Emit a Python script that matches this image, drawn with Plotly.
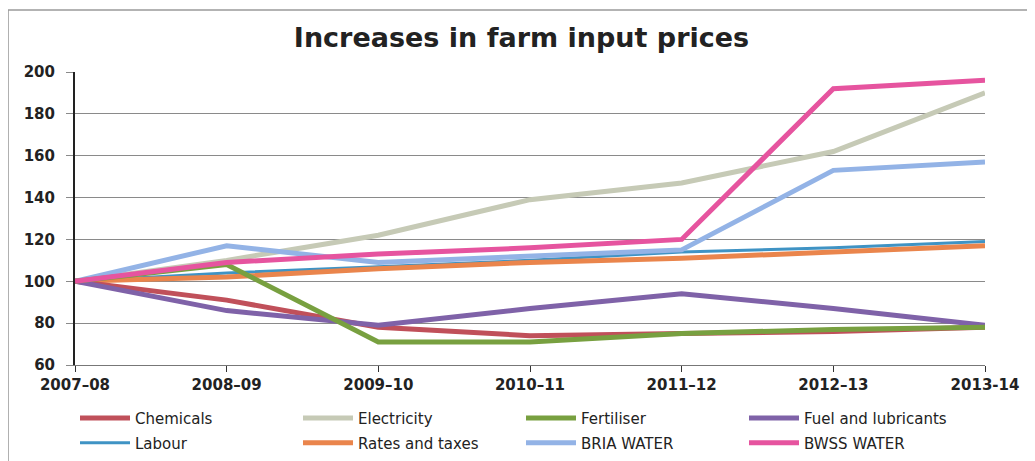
import plotly.graph_objects as go

years = ["2007–08", "2008–09", "2009–10", "2010–11", "2011–12", "2012–13", "2013-14"]

chemicals = [100, 91, 78, 74, 75, 76, 78]
electricity = [100, 110, 122, 139, 147, 162, 190]
fertiliser = [100, 108, 71, 71, 75, 77, 78]
fuel = [100, 86, 79, 87, 94, 87, 79]
labour = [100, 104, 107, 110, 114, 116, 119]
rates = [100, 102, 106, 109, 111, 114, 117]
bria = [100, 117, 109, 112, 115, 153, 157]
bwss = [100, 109, 113, 116, 120, 192, 196]

series = [
    ("Chemicals", chemicals, "#c0505a", 5, "legend"),
    ("Electricity", electricity, "#c6cab6", 5, "legend"),
    ("Fertiliser", fertiliser, "#78a040", 5, "legend"),
    ("Fuel and lubricants", fuel, "#7f62a8", 5, "legend"),
    ("Labour", labour, "#3f93c4", 3, "legend2"),
    ("Rates and taxes", rates, "#ea854c", 5, "legend2"),
    ("BRIA WATER", bria, "#93b3e6", 5, "legend2"),
    ("BWSS WATER", bwss, "#e6549f", 5, "legend2"),
]

fig = go.Figure()
# draw order: put the ones that are on top last
order = [1, 4, 5, 6, 0, 3, 2, 7]
for i in order:
    name, vals, col, w, lg = series[i]
    fig.add_trace(go.Scatter(
        x=years, y=vals, mode="lines", name=name,
        line=dict(color=col, width=w),
        legend=lg, legendrank=i,
    ))

legend_common = dict(orientation="h", x=0.0, xanchor="left", yanchor="top",
                     entrywidth=158, entrywidthmode="pixels", itemwidth=50,
                     font=dict(size=15, color="#222222"), traceorder="normal",
                     bgcolor="rgba(0,0,0,0)")

fig.update_layout(
    width=1027, height=453,
    margin=dict(l=67, r=50, t=64, b=96, autoexpand=False),
    paper_bgcolor="white", plot_bgcolor="white",
    font=dict(family="DejaVu Sans", color="#222222"),
    title=dict(text="<b>Increases in farm input prices</b>", x=0.5, xanchor="center",
               y=0.935, yanchor="middle", font=dict(size=27, color="#222222")),
    xaxis=dict(
        type="category", range=[0, 6], showgrid=False, automargin=False,
        showline=True, linecolor="#777777", linewidth=1,
        ticks="outside", ticklen=6, tickcolor="#333333", tickwidth=1,
        tickfont=dict(size=15, color="#222222", weight="bold"),
        zeroline=False,
    ),
    yaxis=dict(
        range=[60, 200], dtick=20, showgrid=True, gridcolor="#8a8a8a", gridwidth=1,
        showline=True, linecolor="#222222", linewidth=2, automargin=False,
        ticks="outside", ticklen=7, tickcolor="#8a8a8a",
        tickfont=dict(size=15, color="#222222", weight="bold"),
        ticklabelstandoff=8, zeroline=False,
    ),
    legend=dict(y=-0.125, **legend_common),
    legend2=dict(y=-0.21, **legend_common),
    shapes=[dict(type="rect", xref="paper", yref="paper",
                 x0=-0.0736, x1=1.06, y0=-0.36, y1=1.212,
                 line=dict(color="#9a9a9a", width=1.5), layer="below")],
)

fig.write_html("out.html")
